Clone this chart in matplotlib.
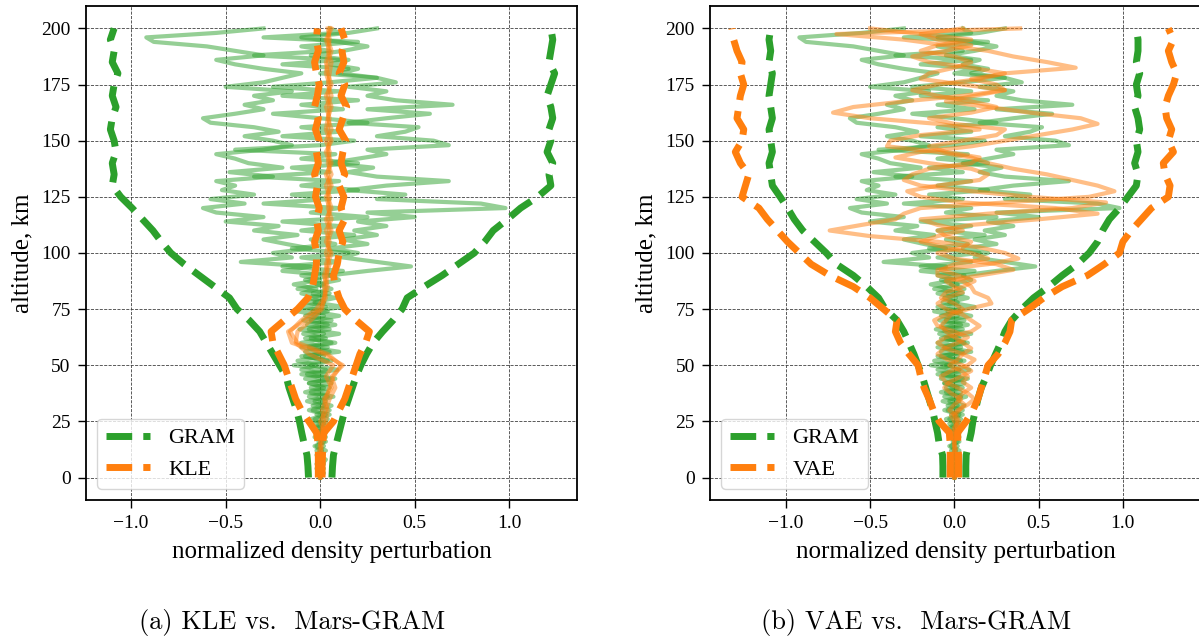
import matplotlib
matplotlib.use("Agg")
import matplotlib.pyplot as plt

plt.rcParams["font.family"] = ["Liberation Serif", "DejaVu Serif"]
plt.rcParams["axes.unicode_minus"] = True

GREEN = "#2ca02c"
ORANGE = "#ff7f0e"

# ---- envelope altitudes (km) -------------------------------------------
alt_env = list(range(0, 201, 5))

# GRAM envelope shown with the KLE comparison
gram_lo_a = [-0.062, -0.065, -0.07, -0.085, -0.098, -0.11, -0.125, -0.145, -0.165, -0.18,
             -0.215, -0.25, -0.285, -0.32, -0.375, -0.44, -0.48, -0.56, -0.64, -0.72,
             -0.79, -0.84, -0.885, -0.94, -0.995, -1.055, -1.10, -1.09, -1.10, -1.08,
             -1.09, -1.11, -1.10, -1.08, -1.10, -1.09, -1.07, -1.10, -1.09, -1.11, -1.09]
gram_hi_a = [0.062, 0.065, 0.07, 0.085, 0.10, 0.115, 0.13, 0.15, 0.17, 0.19,
             0.215, 0.245, 0.28, 0.33, 0.385, 0.433, 0.46, 0.55, 0.645, 0.73,
             0.815, 0.87, 0.915, 0.99, 1.06, 1.15, 1.22, 1.21, 1.23, 1.20,
             1.22, 1.21, 1.23, 1.22, 1.20, 1.22, 1.24, 1.21, 1.22, 1.23, 1.22]

# KLE envelope
kle_lo = [-0.01, -0.01, -0.01, -0.01, -0.02, -0.06, -0.10, -0.13, -0.15, -0.17,
          -0.19, -0.22, -0.25, -0.26, -0.19, -0.12, -0.065, -0.04, -0.03, -0.02,
          -0.02, -0.03, -0.01, -0.02, -0.005, -0.025, -0.015, -0.03, -0.01, -0.02,
          -0.005, -0.025, -0.01, -0.03, -0.015, -0.005, -0.02, -0.03, -0.01, -0.02, -0.015]
kle_hi = [0.01, 0.01, 0.012, 0.012, 0.02, 0.07, 0.10, 0.13, 0.15, 0.17,
          0.19, 0.21, 0.24, 0.26, 0.19, 0.13, 0.10, 0.08, 0.07, 0.09,
          0.10, 0.12, 0.10, 0.13, 0.11, 0.125, 0.10, 0.13, 0.11, 0.12,
          0.135, 0.10, 0.12, 0.14, 0.11, 0.13, 0.10, 0.125, 0.115, 0.13, 0.11]

# GRAM envelope shown with the VAE comparison
gram_lo_b = [-0.068, -0.068, -0.07, -0.09, -0.10, -0.115, -0.13, -0.15, -0.17, -0.19,
             -0.215, -0.24, -0.27, -0.30, -0.34, -0.41, -0.45, -0.52, -0.60, -0.70,
             -0.76, -0.83, -0.90, -0.95, -0.99, -1.034, -1.08, -1.09, -1.10, -1.08,
             -1.09, -1.10, -1.08, -1.09, -1.10, -1.09, -1.08, -1.10, -1.09, -1.10, -1.09]
gram_hi_b = [0.068, 0.068, 0.07, 0.085, 0.10, 0.11, 0.125, 0.14, 0.16, 0.19,
             0.215, 0.245, 0.275, 0.30, 0.34, 0.40, 0.47, 0.56, 0.64, 0.73,
             0.80, 0.85, 0.88, 0.92, 0.98, 1.03, 1.08, 1.09, 1.07, 1.09,
             1.08, 1.10, 1.09, 1.07, 1.09, 1.08, 1.10, 1.08, 1.09, 1.09, 1.08]

# VAE envelope
vae_lo = [-0.025, -0.025, -0.025, -0.025, -0.03, -0.09, -0.125, -0.15, -0.18, -0.20,
          -0.215, -0.27, -0.32, -0.35, -0.34, -0.42, -0.50, -0.60, -0.74, -0.85,
          -0.92, -0.99, -1.05, -1.11, -1.16, -1.26, -1.24, -1.22, -1.27, -1.30,
          -1.26, -1.25, -1.29, -1.28, -1.27, -1.25, -1.27, -1.26, -1.29, -1.31, -1.32]
vae_hi = [0.025, 0.025, 0.025, 0.02, 0.02, 0.07, 0.11, 0.14, 0.16, 0.18,
          0.20, 0.26, 0.30, 0.33, 0.34, 0.44, 0.53, 0.64, 0.79, 0.89,
          0.98, 1.00, 1.05, 1.11, 1.17, 1.27, 1.28, 1.25, 1.24, 1.30,
          1.27, 1.29, 1.26, 1.25, 1.27, 1.30, 1.32, 1.29, 1.27, 1.30, 1.27]

# ---- Mars-GRAM sample profiles (2 km spacing) ---------------------------
alt_gram = list(range(0, 201, 2))
gram_s1 = [0.0, 0.01, -0.01, 0.02, -0.01, 0.01, -0.02, 0.02, -0.01, 0.03,
           -0.02, 0.02, -0.03, 0.04, -0.02, 0.05, -0.04, 0.03, -0.06, 0.04,
           -0.05, 0.06, -0.08, 0.03, -0.10, -0.02, -0.12, 0.02, -0.08, 0.04,
           -0.10, 0.03, -0.09, 0.05, -0.07, 0.06, -0.08, 0.04, -0.10, 0.02,
           -0.06, 0.05, -0.12, 0.02, -0.08, 0.06, -0.20, -0.05, -0.42, -0.15,
           -0.25, -0.05, -0.18, -0.30, -0.12, -0.35, -0.22, -0.50, -0.30, -0.55,
           -0.62, -0.40, -0.58, -0.35, -0.52, -0.45, -0.55, -0.25, -0.48, -0.20,
           -0.38, -0.45, -0.55, -0.30, -0.15, -0.25, -0.40, -0.22, -0.35, -0.58,
           -0.62, -0.45, -0.30, -0.40, -0.25, -0.35, -0.15, -0.50, -0.30, -0.20,
           -0.10, -0.30, -0.45, -0.55, -0.30, -0.45, -0.60, -0.88, -0.92, -0.55, -0.30]
gram_s2 = [0.0, -0.01, 0.02, -0.02, 0.01, -0.01, 0.03, -0.02, 0.02, -0.03,
           0.03, -0.02, 0.04, -0.03, 0.05, -0.04, 0.06, -0.03, 0.07, -0.05,
           0.05, -0.06, 0.08, -0.07, 0.09, -0.05, 0.06, -0.10, 0.10, -0.06,
           0.08, -0.05, 0.10, -0.06, 0.08, -0.05, 0.10, -0.04, 0.12, -0.03,
           0.08, -0.04, 0.06, -0.02, 0.10, 0.05, 0.25, 0.48, 0.30, 0.12,
           0.20, 0.05, 0.25, 0.12, 0.30, 0.18, 0.35, 0.20, 0.50, 0.25,
           0.98, 0.85, 0.30, 0.45, 0.15, 0.35, 0.68, 0.30, 0.15, 0.28,
           0.05, 0.20, 0.35, 0.25, 0.68, 0.60, 0.30, 0.45, 0.52, 0.15,
           0.35, 0.58, 0.25, 0.70, 0.40, 0.25, 0.35, 0.15, 0.40, 0.30,
           0.10, 0.20, 0.05, 0.15, -0.05, 0.12, 0.25, 0.10, -0.10, 0.15, 0.30]
gram_s3 = [0.0, 0.02, -0.02, 0.01, 0.03, -0.02, 0.01, -0.03, 0.03, -0.01,
           0.02, -0.04, 0.02, -0.05, 0.03, -0.06, 0.02, -0.07, 0.04, -0.08,
           0.02, -0.06, 0.05, -0.10, 0.03, -0.14, 0.04, -0.08, 0.05, -0.10,
           0.06, -0.08, 0.02, -0.11, 0.04, -0.09, 0.02, -0.12, 0.03, -0.07,
           0.01, -0.10, -0.02, -0.14, 0.0, -0.10, 0.12, -0.20, 0.10, -0.10,
           0.15, -0.15, 0.08, -0.05, 0.18, -0.10, 0.10, -0.20, 0.25, -0.05,
           0.10, -0.30, 0.05, -0.15, 0.20, -0.10, 0.10, -0.35, 0.05, -0.15,
           0.20, -0.10, 0.08, -0.45, 0.0, 0.18, -0.20, 0.10, -0.10, 0.25,
           0.0, -0.25, 0.12, -0.10, 0.20, -0.20, 0.10, -0.25, 0.05, 0.30,
           0.0, 0.15, -0.20, 0.10, -0.35, 0.05, -0.10, 0.20, -0.30, 0.10, 0.05]

# ---- KLE sample profiles (5 km spacing) ---------------------------------
alt_kle = list(range(0, 201, 5))
kle_s1 = [0.0, 0.0, 0.01, 0.0, 0.01, 0.02, 0.01, 0.03, 0.05, 0.07,
          0.11, 0.04, -0.12, -0.16, -0.10, -0.02, 0.02, 0.03, 0.04, 0.03,
          0.05, 0.04, 0.06, 0.04, 0.05, 0.03, 0.06, 0.04, 0.05, 0.03,
          0.06, 0.04, 0.05, 0.03, 0.06, 0.04, 0.05, 0.06, 0.04, 0.05, 0.04]
kle_s2 = [0.0, 0.01, 0.0, 0.01, 0.02, 0.0, 0.03, 0.05, 0.08, 0.06,
          0.12, 0.02, -0.15, -0.17, -0.08, 0.0, 0.03, 0.02, 0.03, 0.05,
          0.03, 0.05, 0.03, 0.06, 0.04, 0.05, 0.03, 0.06, 0.04, 0.05,
          0.03, 0.06, 0.04, 0.06, 0.04, 0.05, 0.03, 0.04, 0.06, 0.04, 0.05]
kle_s3 = [0.0, 0.0, -0.01, 0.0, 0.0, 0.03, 0.04, 0.02, 0.06, 0.03,
          0.07, -0.06, -0.13, -0.12, -0.05, 0.01, 0.02, 0.04, 0.02, 0.04,
          0.06, 0.03, 0.05, 0.03, 0.06, 0.04, 0.05, 0.03, 0.06, 0.04,
          0.05, 0.03, 0.04, 0.05, 0.03, 0.06, 0.04, 0.03, 0.05, 0.03, 0.06]

# ---- VAE sample profiles (2.5 km spacing) -------------------------------
alt_vae = [a / 2 for a in range(0, 401, 5)]
vae_s1 = [0.0, 0.0, 0.0, 0.0, 0.0, 0.01, 0.0, 0.0, 0.0, 0.01,
          0.02, 0.0, 0.03, 0.06, 0.02, 0.05, 0.10, 0.05, 0.08, 0.04,
          -0.03, 0.02, 0.05, 0.10, 0.05, 0.0, -0.05, -0.08, -0.05, -0.02,
          0.08, 0.22, 0.20, 0.12, 0.10, 0.05, -0.10, -0.10, 0.20, 0.38,
          0.30, 0.15, -0.10, -0.50, -0.74, -0.55, -0.35, -0.30, -0.20, 0.30,
          0.80, 0.95, 0.85, 0.70, 0.55, 0.35, 0.20, 0.10, -0.10, -0.40,
          -0.38, -0.20, 0.15, -0.10, -0.50, -0.72, -0.60, -0.30, 0.05, 0.30,
          0.25, 0.10, 0.30, 0.72, 0.55, 0.35, 0.20, -0.05, -0.30, -0.70, 0.39]
vae_s2 = [0.0, 0.0, 0.0, 0.0, 0.0, 0.0, 0.0, 0.0, 0.01, 0.02,
          0.0, -0.02, 0.02, 0.08, 0.12, 0.08, 0.02, -0.05, -0.08, -0.02,
          0.08, 0.12, 0.05, -0.05, -0.10, -0.05, 0.10, 0.15, 0.10, 0.05,
          -0.05, -0.10, -0.05, 0.05, 0.0, -0.05, 0.15, 0.35, 0.25, 0.0,
          -0.10, 0.05, 0.10, -0.05, -0.10, 0.10, 0.50, 0.85, 0.60, 0.05,
          -0.20, -0.28, -0.10, 0.15, 0.20, 0.10, -0.15, -0.35, -0.20, 0.10,
          0.30, 0.50, 0.70, 0.85, 0.75, 0.45, 0.20, -0.05, 0.12, 0.30,
          0.05, -0.20, -0.15, 0.0, 0.10, 0.0, -0.20, -0.10, 0.10, -0.20, -0.50]
vae_s3 = [0.0, 0.0, 0.0, 0.0, 0.0, 0.0, 0.0, 0.0, -0.01, 0.0,
          0.03, 0.01, -0.03, 0.0, 0.04, -0.02, -0.06, -0.03, 0.04, 0.10,
          0.05, -0.04, -0.10, -0.06, 0.02, 0.08, 0.0, -0.10, -0.12, -0.05,
          0.05, 0.0, -0.08, -0.05, 0.05, 0.12, 0.02, -0.08, 0.0, 0.20,
          0.10, -0.05, -0.20, -0.10, 0.05, -0.10, -0.20, 0.20, 0.70, 0.90,
          0.45, 0.10, -0.20, -0.30, -0.25, -0.15, 0.10, 0.15, -0.05, -0.15,
          0.05, 0.25, 0.30, 0.0, -0.15, 0.10, 0.25, 0.10, -0.10, -0.25,
          -0.10, 0.15, 0.30, 0.10, -0.15, -0.25, -0.05, 0.10, -0.10, -0.20, 0.05]

gram_samples = [gram_s1, gram_s2, gram_s3]
kle_samples = [kle_s1, kle_s2, kle_s3]
vae_samples = [vae_s1, vae_s2, vae_s3]

y_ticks = [0, 25, 50, 75, 100, 125, 150, 175, 200]
x_ticks = [-1.0, -0.5, 0.0, 0.5, 1.0]

fig = plt.figure(figsize=(11.99, 6.41), dpi=100)
ax_a = fig.add_axes([0.0717, 0.22, 0.4095, 0.7707])
ax_b = fig.add_axes([0.5922, 0.22, 0.4095, 0.7707])


def draw_panel(ax, model_alt, model_samples, model_lo, model_hi, gram_lo, gram_hi,
               model_name, xlim):
    for s in gram_samples:
        ax.plot(s, alt_gram, color=GREEN, lw=3, alpha=0.5, zorder=2)
    for s in model_samples:
        ax.plot(s, model_alt, color=ORANGE, lw=3, alpha=0.5, zorder=3)
    ax.plot(gram_lo, alt_env, color=GREEN, lw=5, ls="--", label="GRAM", zorder=4)
    ax.plot(gram_hi, alt_env, color=GREEN, lw=5, ls="--", zorder=4)
    ax.plot(model_lo, alt_env, color=ORANGE, lw=5, ls="--", label=model_name, zorder=5)
    ax.plot(model_hi, alt_env, color=ORANGE, lw=5, ls="--", zorder=5)

    ax.set_xlim(*xlim)
    ax.set_ylim(-10, 210)
    ax.set_xticks(x_ticks)
    ax.set_yticks(y_ticks)
    ax.tick_params(labelsize=14, length=6, width=1.0, pad=5)
    ax.grid(True, color="0.25", ls="--", lw=0.6)
    for sp in ax.spines.values():
        sp.set_linewidth(1.3)
    ax.set_xlabel("normalized density perturbation", fontsize=18, labelpad=6)
    ax.set_ylabel("altitude, km", fontsize=18, labelpad=6)
    ax.legend(loc="lower left", fontsize=16)


draw_panel(ax_a, alt_kle, kle_samples, kle_lo, kle_hi, gram_lo_a, gram_hi_a,
           "KLE", (-1.239, 1.358))
draw_panel(ax_b, alt_vae, vae_samples, vae_lo, vae_hi, gram_lo_b, gram_hi_b,
           "VAE", (-1.45, 1.464))

fig.text(292 / 1199, 1 - 623 / 641, "(a) KLE vs.  Mars-GRAM", family="cmr10",
         fontsize=19, ha="center", va="center")
fig.text(916 / 1199, 1 - 623 / 641, "(b) VAE vs.  Mars-GRAM", family="cmr10",
         fontsize=19, ha="center", va="center")

fig.savefig("out.png", dpi=100)
